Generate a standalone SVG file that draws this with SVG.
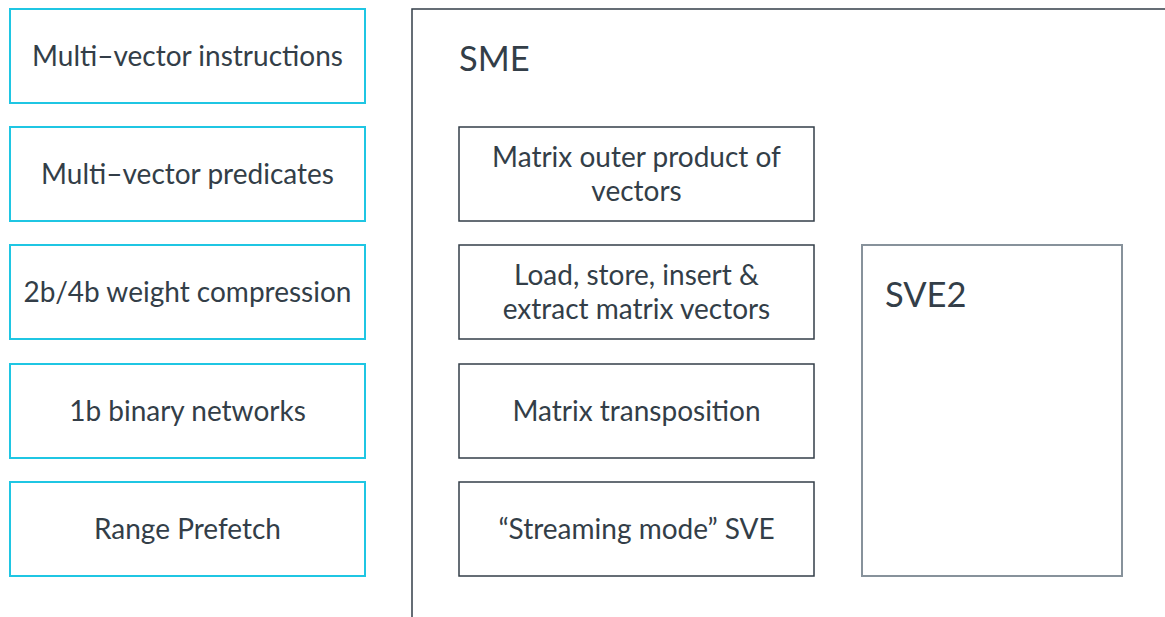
<svg xmlns="http://www.w3.org/2000/svg" width="1165" height="617" viewBox="0 0 1165 617">
  <style>
    text { font-family: Lato, "Open Sans", "Liberation Sans", sans-serif; fill: #333e48; }
    .lbl { font-size: 28px; text-anchor: middle; }
    .title { font-size: 34.5px; }
    .feat { fill: #ffffff; stroke: #1fc6e3; stroke-width: 2; }
    .sme { fill: #ffffff; stroke: #333e48; stroke-width: 1.5; }
    .inner { fill: #ffffff; stroke: #333e48; stroke-width: 1.5; }
    .sve { fill: #ffffff; stroke: #87929b; stroke-width: 2; }
  </style>
  <rect width="1165" height="617" fill="#ffffff"/>

  <!-- Left column: new architecture features -->
  <g id="multi-vector-instructions">
    <rect class="feat" x="10" y="9" width="355" height="94"/>
    <text class="lbl" x="187.5" y="66">Multi–vector instructions</text>
  </g>
  <g id="multi-vector-predicates">
    <rect class="feat" x="10" y="127" width="355" height="94"/>
    <text class="lbl" x="187.5" y="184">Multi–vector predicates</text>
  </g>
  <g id="weight-compression">
    <rect class="feat" x="10" y="245" width="355" height="94"/>
    <text class="lbl" x="187.5" y="302">2b/4b weight compression</text>
  </g>
  <g id="binary-networks">
    <rect class="feat" x="10" y="364" width="355" height="94"/>
    <text class="lbl" x="187.5" y="421">1b binary networks</text>
  </g>
  <g id="range-prefetch">
    <rect class="feat" x="10" y="482" width="355" height="94"/>
    <text class="lbl" x="187.5" y="539">Range Prefetch</text>
  </g>

  <!-- SME container, running off the right and bottom edges -->
  <g id="sme">
    <rect class="sme" x="412" y="9" width="780" height="640"/>
    <text class="title" x="459" y="71">SME</text>
  </g>
  <g id="outer-product">
    <rect class="inner" x="459" y="127" width="355" height="94"/>
    <text class="lbl" x="636.5" y="167">Matrix outer product of</text>
    <text class="lbl" x="636.5" y="201">vectors</text>
  </g>
  <g id="load-store">
    <rect class="inner" x="459" y="245" width="355" height="94"/>
    <text class="lbl" x="636.5" y="285">Load, store, insert &amp;</text>
    <text class="lbl" x="636.5" y="319">extract matrix vectors</text>
  </g>
  <g id="transposition">
    <rect class="inner" x="459" y="364" width="355" height="94"/>
    <text class="lbl" x="636.5" y="421">Matrix transposition</text>
  </g>
  <g id="streaming-sve">
    <rect class="inner" x="459" y="482" width="355" height="94"/>
    <text class="lbl" x="636.5" y="539">“Streaming mode” SVE</text>
  </g>
  <g id="sve2">
    <rect class="sve" x="862" y="245" width="260" height="331"/>
    <text class="title" x="885" y="307">SVE2</text>
  </g>

  <g id="connectors"></g>
</svg>
